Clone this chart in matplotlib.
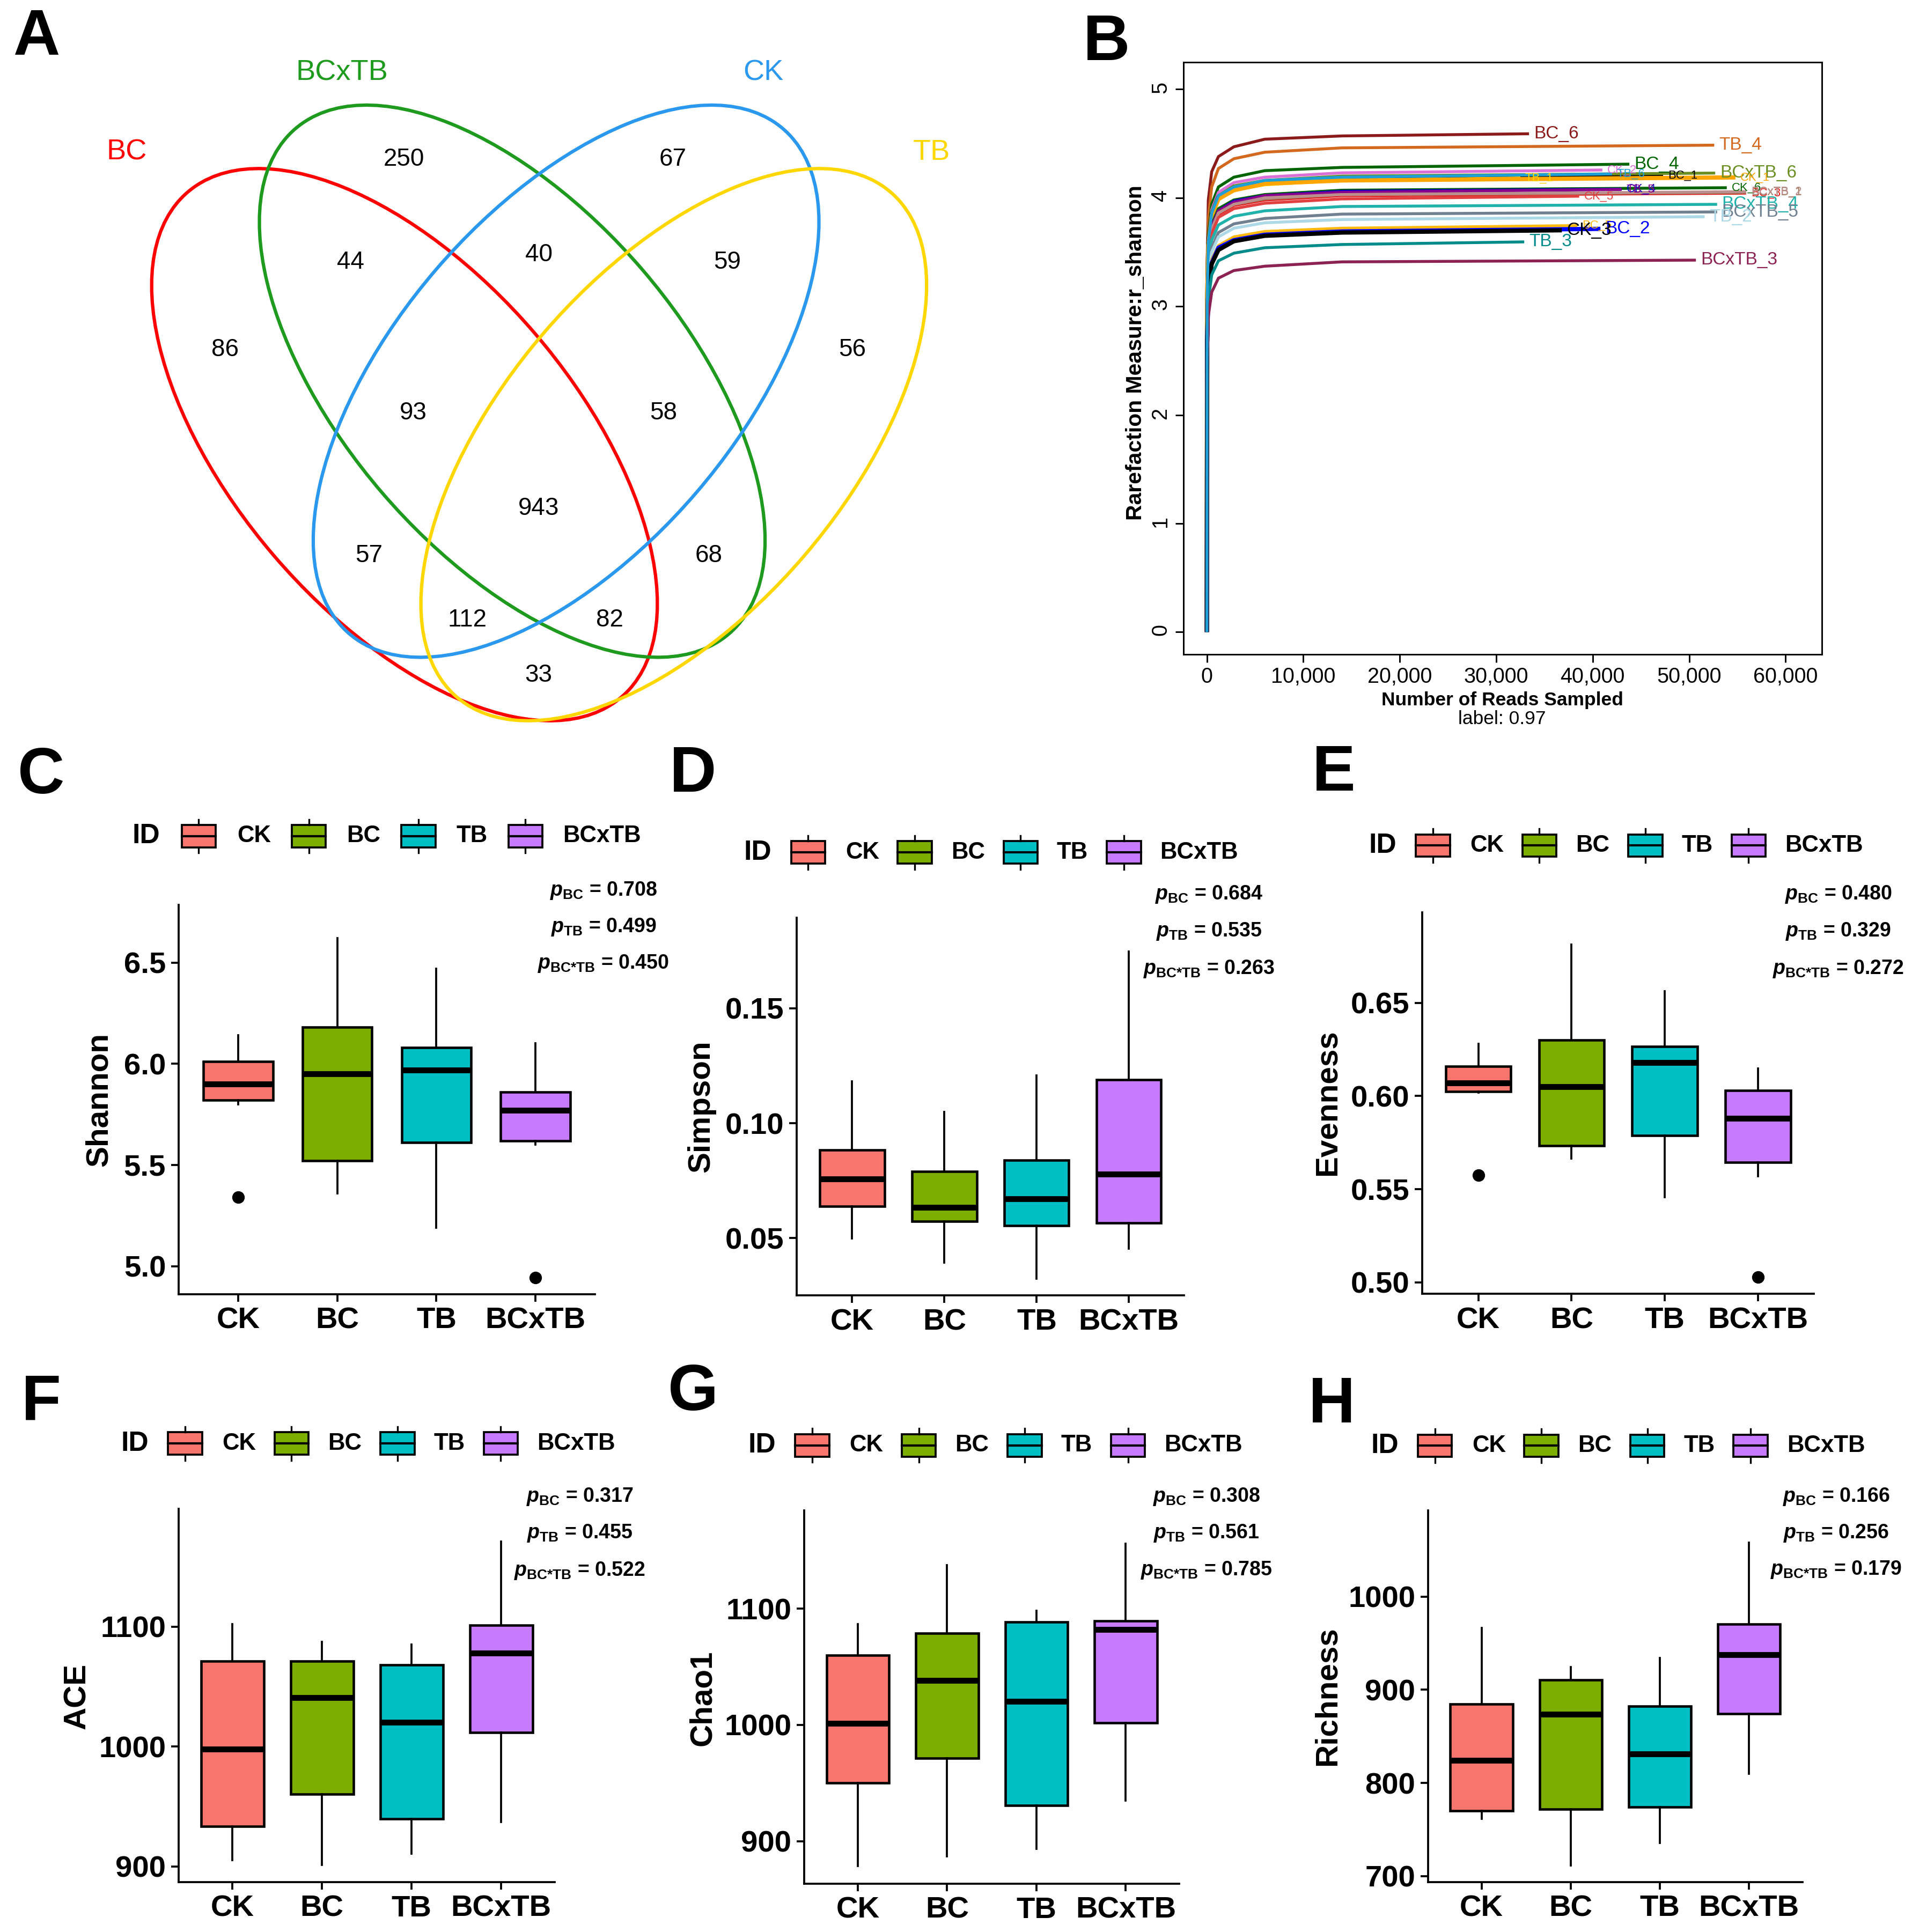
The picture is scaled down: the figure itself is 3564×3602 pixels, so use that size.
import matplotlib
matplotlib.use("Agg")
import matplotlib.pyplot as plt
from matplotlib.patches import Ellipse, Rectangle
from matplotlib.ticker import FuncFormatter

# ---------------- data ----------------
# A: Venn diagram (OTU counts per region)
venn_sets = ["BC", "BCxTB", "CK", "TB"]
venn_colors = ["#FF0000", "#1E9A1E", "#2A98EE", "#FFD700"]
venn_counts = [250, 67, 44, 40, 59, 86, 56, 93, 58, 943, 57, 68, 112, 82, 33]

# B: rarefaction curves (shannon), values at rare_depth, last value at sample end depth
rare_depth = [0, 30, 150, 500, 1200, 2800, 6000, 14000]
rare_names = ["BC_6", "TB_4", "BC_4", "CK_2", "BC_1", "BCxTB_6", "TB_1", "CK_1",
              "CK_6", "CK_4", "TB_5", "BC_3", "BCxTB_1", "BCxTB_2", "CK_5",
              "BCxTB_4", "BCxTB_5", "TB_2", "BC_5", "BC_2", "CK_3", "TB_3",
              "BCxTB_3", "TB_6"]
rare_end = [33400, 52600, 43800, 41000, 47300, 52700, 32500, 54800,
            53900, 43000, 43000, 55900, 55900, 55900, 38600,
            52900, 52900, 51600, 38400, 40800, 36800, 32900,
            50700, 42000]
rare_values = [
    [0, 3.40, 3.98, 4.24, 4.38, 4.47, 4.54, 4.57, 4.590],
    [0, 3.23, 3.81, 4.10, 4.27, 4.36, 4.42, 4.46, 4.485],
    [0, 3.10, 3.66, 3.94, 4.10, 4.19, 4.25, 4.28, 4.310],
    [0, 3.06, 3.62, 3.89, 4.05, 4.14, 4.19, 4.23, 4.256],
    [0, 3.03, 3.58, 3.85, 4.01, 4.09, 4.14, 4.18, 4.208],
    [0, 3.04, 3.59, 3.87, 4.02, 4.11, 4.16, 4.20, 4.228],
    [0, 3.01, 3.56, 3.83, 3.98, 4.07, 4.12, 4.16, 4.183],
    [0, 3.02, 3.56, 3.83, 3.99, 4.07, 4.13, 4.16, 4.188],
    [0, 2.95, 3.48, 3.75, 3.90, 3.98, 4.03, 4.07, 4.093],
    [0, 2.94, 3.47, 3.73, 3.88, 3.97, 4.02, 4.06, 4.080],
    [0, 2.94, 3.47, 3.73, 3.88, 3.96, 4.02, 4.05, 4.077],
    [0, 2.91, 3.44, 3.70, 3.85, 3.93, 3.98, 4.02, 4.043],
    [0, 2.92, 3.44, 3.71, 3.86, 3.94, 3.99, 4.03, 4.050],
    [0, 2.92, 3.45, 3.71, 3.86, 3.94, 4.00, 4.03, 4.057],
    [0, 2.89, 3.41, 3.67, 3.82, 3.90, 3.95, 3.99, 4.015],
    [0, 2.84, 3.35, 3.61, 3.75, 3.83, 3.88, 3.92, 3.940],
    [0, 2.79, 3.29, 3.54, 3.68, 3.76, 3.81, 3.85, 3.870],
    [0, 2.75, 3.25, 3.50, 3.64, 3.72, 3.77, 3.80, 3.826],
    [0, 2.70, 3.18, 3.43, 3.56, 3.64, 3.69, 3.72, 3.744],
    [0, 2.67, 3.16, 3.40, 3.54, 3.61, 3.66, 3.69, 3.714],
    [0, 2.66, 3.15, 3.39, 3.52, 3.60, 3.65, 3.68, 3.701],
    [0, 2.59, 3.05, 3.29, 3.42, 3.49, 3.54, 3.57, 3.594],
    [0, 2.47, 2.91, 3.13, 3.26, 3.33, 3.37, 3.41, 3.426],
    [0, 3.04, 3.59, 3.86, 4.02, 4.10, 4.16, 4.19, 4.220],
]
rare_colors = ["#8B1A1A", "#D2691E", "#006400", "#DA70D6", "#000000", "#6B8E23",
               "#FFD700", "#FFA500", "#006400", "#0000CD", "#8B008B", "#E31A1C",
               "#A0785A", "#BC8F8F", "#E04040", "#20B2AA", "#708090", "#ADD8E6",
               "#FFB90F", "#0000FF", "#000000", "#008B8B", "#8B2252", "#1E9FD6"]
rare_big = [1, 1, 1, 0, 0, 1, 0, 0, 0, 0, 0, 0, 0, 0, 0, 1, 1, 1, 0, 1, 1, 1, 1, 0]

# C-H: alpha diversity boxplots, [lower whisker, q1, median, q3, upper whisker]
groups = ["CK", "BC", "TB", "BCxTB"]
group_colors = ["#F8766D", "#7CAE00", "#00BFC4", "#C77CFF"]
shannon = [[5.80, 5.82, 5.90, 6.01, 6.14], [5.36, 5.52, 5.95, 6.18, 6.62],
           [5.19, 5.61, 5.97, 6.08, 6.47], [5.60, 5.62, 5.77, 5.86, 6.10]]
shannon_out = [[5.34], [], [], [4.944]]
simpson = [[0.0497, 0.0638, 0.0758, 0.0883, 0.1183], [0.0392, 0.0572, 0.0633, 0.0790, 0.1050],
           [0.0323, 0.0553, 0.0670, 0.0840, 0.1208], [0.0453, 0.0565, 0.0778, 0.1190, 0.1748]]
simpson_out = [[], [], [], []]
evenness = [[0.6020, 0.6025, 0.6070, 0.6161, 0.6282], [0.5665, 0.5733, 0.6049, 0.6302, 0.6812],
            [0.5457, 0.5788, 0.6179, 0.6267, 0.6562], [0.5571, 0.5643, 0.5881, 0.6029, 0.6149]]
evenness_out = [[0.5575], [], [], [0.5027]]
ace = [[905.3, 933.6, 997.8, 1071.0, 1101.9], [901.0, 960.4, 1040.6, 1071.0, 1087.4],
       [910.4, 939.6, 1020.0, 1068.0, 1085.2], [937.0, 1011.6, 1078.0, 1101.0, 1170.8]]
chao1 = [[878.5, 950.1, 1001.3, 1059.8, 1086.7], [886.7, 971.2, 1038.3, 1078.8, 1137.3],
         [893.6, 930.6, 1020.1, 1088.3, 1098.0], [934.8, 1002.0, 1082.0, 1089.6, 1156.0]]
richness = [[761.4, 769.9, 824.5, 884.8, 966.4], [711.3, 771.9, 873.8, 910.5, 924.3],
            [735.9, 773.9, 830.9, 882.2, 934.4], [809.9, 874.2, 937.7, 970.5, 1057.8]]
no_out = [[], [], [], []]
p_shannon = ["0.708", "0.499", "0.450"]
p_simpson = ["0.684", "0.535", "0.263"]
p_evenness = ["0.480", "0.329", "0.272"]
p_ace = ["0.317", "0.455", "0.522"]
p_chao1 = ["0.308", "0.561", "0.785"]
p_richness = ["0.166", "0.256", "0.179"]

# ---------------- figure ----------------
W, H, DPI = 3564, 3602, 300
plt.rcParams['font.family'] = ['Liberation Sans', 'DejaVu Sans']
plt.rcParams['mathtext.fontset'] = 'custom'
plt.rcParams['mathtext.it'] = 'Liberation Sans:italic:bold'
plt.rcParams['mathtext.rm'] = 'Liberation Sans:bold'
plt.rcParams['mathtext.bf'] = 'Liberation Sans:bold'
NARROW = ['Liberation Sans Narrow', 'Liberation Sans']

fig = plt.figure(figsize=(W / DPI, H / DPI), dpi=DPI)


def fig_rect(l, t, r, b):
    return [l / W, 1 - b / H, (r - l) / W, (b - t) / H]


# ---- B: rarefaction
axb = fig.add_axes(fig_rect(2205.5, 115.6, 3395.6, 1220))
for name, end, vals, col, big in zip(rare_names, rare_end, rare_values, rare_colors, rare_big):
    lw = 1.9 if name in ("CK_1", "BC_1", "CK_3", "BC_2") else 1.3
    axb.plot(rare_depth + [end], vals, color=col, lw=lw, solid_capstyle='butt',
             solid_joinstyle='round')
    axb.text(end + 500, vals[-1], name, color=col, fontsize=8 if big else 5.3,
             family=NARROW, ha='left', va='center')
axb.set_xlim(-2453, 63737)
axb.set_ylim(-0.2055, 5.251)
axb.set_xticks(range(0, 60001, 10000))
axb.xaxis.set_major_formatter(FuncFormatter(lambda v, p: f"{int(v):,}"))
axb.set_yticks(range(6))
axb.tick_params(length=3.6, width=0.7, labelsize=9.5, pad=2)
axb.tick_params(axis='y', labelrotation=90)
for lbl in axb.get_xticklabels() + axb.get_yticklabels():
    lbl.set_family(NARROW)
for sp in axb.spines.values():
    sp.set_linewidth(0.7)


# ---- C-H: boxplots
def box_panel(rect, vals, outs, ylim, ticks, fmt):
    ax = fig.add_axes(fig_rect(*rect))
    stats = []
    for v, o, g in zip(vals, outs, groups):
        stats.append(dict(whislo=v[0], q1=v[1], med=v[2], q3=v[3], whishi=v[4],
                          fliers=o, label=g))
    bp = ax.bxp(stats, positions=[1, 2, 3, 4], widths=0.7, patch_artist=True,
                showcaps=False, manage_ticks=False,
                boxprops=dict(edgecolor='black', linewidth=1.1),
                whiskerprops=dict(color='black', linewidth=0.9),
                medianprops=dict(color='black', linewidth=2.6, solid_capstyle='butt'),
                flierprops=dict(marker='o', markerfacecolor='black',
                                markeredgecolor='black', markersize=4.6))
    for patch, c in zip(bp['boxes'], group_colors):
        patch.set_facecolor(c)
    ax.set_xlim(0.4, 4.6)
    ax.set_ylim(*ylim)
    ax.set_xticks([1, 2, 3, 4])
    ax.set_xticklabels(groups, fontweight='bold', fontsize=13.5)
    ax.set_yticks(ticks)
    ax.set_yticklabels([fmt % t for t in ticks], fontweight='bold', fontsize=13.5)
    ax.tick_params(length=3.3, width=0.9, pad=2.4)
    for s in ('top', 'right'):
        ax.spines[s].set_visible(False)
    for s in ('left', 'bottom'):
        ax.spines[s].set_linewidth(0.9)
    return ax


panels = [
    dict(rect=(333, 1686.6, 1109, 2412.6), vals=shannon, outs=shannon_out,
         ylim=(4.862, 6.786), ticks=[5.0, 5.5, 6.0, 6.5], fmt='%.1f', name='Shannon',
         lab=(184.6, 2050), letter=('C', 77, 1447), leg=(246.6, 1559, 1.035),
         p=p_shannon, pxy=(1125, [1660, 1728, 1797])),
    dict(rect=(1485.3, 1710.6, 2207.4, 2415.3), vals=simpson, outs=simpson_out,
         ylim=(0.025, 0.1895), ticks=[0.05, 0.10, 0.15], fmt='%.2f', name='Simpson',
         lab=(1307.7, 2063), letter=('D', 1292, 1444), leg=(1386.9, 1589.2, 1.0),
         p=p_simpson, pxy=(2253.5, [1667.7, 1737, 1806.3])),
    dict(rect=(2651.4, 1701.3, 3381, 2412.4), vals=evenness, outs=evenness_out,
         ylim=(0.4938, 0.6985), ticks=[0.50, 0.55, 0.60, 0.65], fmt='%.2f', name='Evenness',
         lab=(2474.6, 2056), letter=('E', 2486, 1443), leg=(2551.4, 1576.4, 1.0),
         p=p_evenness, pxy=(3426.5, [1667.7, 1737, 1806.3])),
    dict(rect=(333, 2812.7, 1034.3, 3509.2), vals=ace, outs=no_out,
         ylim=(886.8, 1198.4), ticks=[900, 1000, 1100], fmt='%d', name='ACE',
         lab=(143.8, 3162), letter=('F', 77, 2616), leg=(225.3, 2691.2, 1.0),
         p=p_ace, pxy=(1080.4, [2790.3, 2858.4, 2928.7])),
    dict(rect=(1499.1, 2816.3, 2198.2, 3512), vals=chao1, outs=no_out,
         ylim=(863.4, 1184.3), ticks=[900, 1000, 1100], fmt='%d', name='Chao1',
         lab=(1310, 3166), letter=('G', 1292, 2598), leg=(1394.6, 2694.7, 1.0),
         p=p_chao1, pxy=(2248.6, [2790.3, 2858.4, 2927.3])),
    dict(rect=(2661.9, 2816.3, 3360, 3508.5), vals=richness, outs=no_out,
         ylim=(693.9, 1092.2), ticks=[700, 800, 900, 1000], fmt='%d', name='Richness',
         lab=(2474.6, 3162), letter=('H', 2482, 2620), leg=(2555.2, 2695.4, 1.0),
         p=p_richness, pxy=(3422.8, [2790, 2858, 2927])),
]
for pn in panels:
    box_panel(pn['rect'], pn['vals'], pn['outs'], pn['ylim'], pn['ticks'], pn['fmt'])

# ---- overlay in pixel coordinates: venn, letters, legends, labels
ov = fig.add_axes([0, 0, 1, 1])
ov.set_xlim(0, W)
ov.set_ylim(H, 0)
ov.axis('off')

venn_centers = [(754, 829), (954.8, 710.7), (1055.2, 710.7), (1255.9, 829)]
venn_angles = [49.35, 49.35, -49.35, -49.35]
venn_label_xy = [(236.5, 284), (637, 136), (1422.6, 136), (1736.5, 284)]
venn_count_xy = [(753, 297), (1254, 297), (653, 489), (1004, 475), (1356, 489),
                 (419, 652), (1589, 652), (770, 770), (1237, 770), (1004, 948),
                 (688, 1036), (1321, 1036), (871, 1156), (1136, 1156), (1004, 1259)]
for (cx, cy), ang, col in zip(venn_centers, venn_angles, venn_colors):
    ov.add_patch(Ellipse((cx, cy), 1241, 639, angle=ang, fill=False, ec=col, lw=1.5))
for (x, y), name, col in zip(venn_label_xy, venn_sets, venn_colors):
    ov.text(x, y, name, color=col, fontsize=13, ha='center', va='center')
for (x, y), n in zip(venn_count_xy, venn_counts):
    ov.text(x, y, str(n), fontsize=11, ha='center', va='center')

for letter, x, y in [('A', 69, 71), ('B', 2063, 80)] + [pn['letter'] for pn in panels]:
    ov.text(x, y, letter, fontsize=29, fontweight='bold', ha='center', va='center')

ov.text(2117, 658, "Rarefaction Measure:r_shannon", rotation=90, fontsize=9.8,
        fontweight='bold', ha='center', va='center')
ov.text(2800, 1305, "Number of Reads Sampled", fontsize=8.5, fontweight='bold',
        family=NARROW, ha='center', va='center')
ov.text(2800, 1341, "label: 0.97", fontsize=8.5, family=NARROW, ha='center', va='center')

key_off = [119.5, 318, 515.5, 708]
lab_off = [189, 386, 583, 775.5]
kw, kh, stub = 63.5, 41.7, 10.5
p_names = [r'$\mathit{p}_{\mathrm{BC}}$', r'$\mathit{p}_{\mathrm{TB}}$',
           r'$\mathit{p}_{\mathrm{BC{*}TB}}$']
for pn in panels:
    x0, ly, sc = pn['leg']
    ov.text(x0, ly, "ID", fontsize=12.4, fontweight='bold', ha='left', va='center')
    for ko, lo, g, c in zip(key_off, lab_off, groups, group_colors):
        kx = x0 + ko * sc
        ov.add_patch(Rectangle((kx - kw / 2, ly - kh / 2), kw, kh, fc=c, ec='black', lw=0.9))
        ov.plot([kx - kw / 2, kx + kw / 2], [ly, ly], color='black', lw=1.0)
        ov.plot([kx, kx], [ly - kh / 2 - stub, ly - kh / 2], color='black', lw=0.8)
        ov.plot([kx, kx], [ly + kh / 2, ly + kh / 2 + stub], color='black', lw=0.8)
        ov.text(x0 + lo * sc, ly, g, fontsize=10.5, fontweight='bold', ha='left', va='center')
    lx, lyy = pn['lab']
    ov.text(lx, lyy, pn['name'], rotation=90, fontsize=14, fontweight='bold',
            ha='center', va='center')
    px, pys = pn['pxy']
    for nm, val, py in zip(p_names, pn['p'], pys):
        ov.text(px, py, nm + " = " + val, fontsize=9, fontweight='bold',
                ha='center', va='center')

fig.savefig("out.png", dpi=DPI)
